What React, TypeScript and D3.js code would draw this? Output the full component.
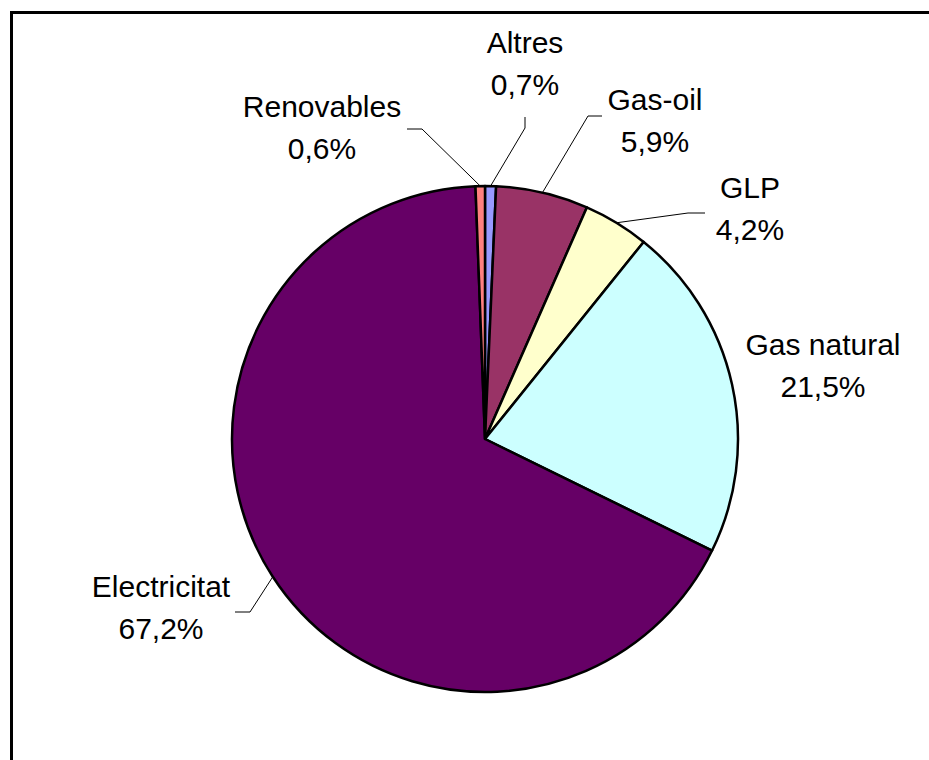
import React, { useEffect, useRef } from 'react';
import * as d3 from 'd3';

// Consum d'energia per font (%), en ordre horari des de les 12
const CATEGORIES = ['Altres', 'Gas-oil', 'GLP', 'Gas natural', 'Electricitat', 'Renovables'];
const VALUES = [0.7, 5.9, 4.2, 21.5, 67.2, 0.6];
const VALUE_LABELS = ['0,7%', '5,9%', '4,2%', '21,5%', '67,2%', '0,6%'];
const COLORS = ['#9999FF', '#993366', '#FFFFCC', '#CCFFFF', '#660066', '#FF8080'];

// Label placement relative to pie centre (text centre / first baseline, leader elbow, leader end)
const LABEL_LAYOUT: Record<string, { tx: number; ty: number; elbow?: [number, number]; end?: [number, number] }> = {
  'Altres':       { tx: 40,   ty: -386, elbow: [40, -311],  end: [40, -322] },
  'Gas-oil':      { tx: 170,  ty: -329, elbow: [103, -323], end: [117, -323] },
  'GLP':          { tx: 265,  ty: -241, elbow: [203, -226], end: [220, -226] },
  'Gas natural':  { tx: 338,  ty: -84 },
  'Electricitat': { tx: -324, ty: 158,  elbow: [-235, 173], end: [-250, 173] },
  'Renovables':   { tx: -163, ty: -322, elbow: [-63, -310],  end: [-78, -310] },
};

const W = 929;
const H = 760;
const CX = 485;
const CY = 439;
const R = 253;
const LINE_GAP = 42;

export default function App() {
  const svgRef = useRef<SVGSVGElement>(null);

  useEffect(() => {
    const svg = d3.select(svgRef.current);
    svg.selectAll('*').remove();

    svg.append('rect')
      .attr('width', W).attr('height', H)
      .attr('fill', '#fff');

    // outer frame (runs off the right and bottom)
    svg.append('path')
      .attr('d', `M11.5,${H + 10} V12.5 H${W + 10}`)
      .attr('fill', 'none')
      .attr('stroke', '#000')
      .attr('stroke-width', 3);

    const data = CATEGORIES.map((name, i) => ({ name, value: VALUES[i], label: VALUE_LABELS[i], color: COLORS[i] }));

    const pie = d3.pie<typeof data[number]>()
      .sort(null)
      .value(d => d.value)
      .startAngle(0)
      .endAngle(2 * Math.PI);

    const arcs = pie(data);
    const arc = d3.arc<d3.PieArcDatum<typeof data[number]>>().innerRadius(0).outerRadius(R);
    const edge = d3.arc<d3.PieArcDatum<typeof data[number]>>().innerRadius(R).outerRadius(R);

    const g = svg.append('g').attr('transform', `translate(${CX},${CY})`);

    // leader lines
    arcs.forEach(a => {
      const lay = LABEL_LAYOUT[a.data.name];
      if (!lay.elbow || !lay.end) return;
      const p = edge.centroid(a);
      g.append('polyline')
        .attr('points', [p, lay.elbow, lay.end].map(q => q.join(',')).join(' '))
        .attr('fill', 'none')
        .attr('stroke', '#000')
        .attr('stroke-width', 1);
    });

    // slices
    g.selectAll('path.slice')
      .data(arcs)
      .enter()
      .append('path')
      .attr('class', 'slice')
      .attr('d', arc)
      .attr('fill', d => d.data.color)
      .attr('stroke', '#000')
      .attr('stroke-width', 2.5)
      .attr('stroke-linejoin', 'round');

    // labels
    arcs.forEach(a => {
      const lay = LABEL_LAYOUT[a.data.name];
      const t = g.append('text')
        .attr('text-anchor', 'middle')
        .attr('font-family', '"Liberation Sans", Arial, sans-serif')
        .attr('font-size', 30)
        .attr('fill', '#000');
      t.append('tspan').attr('x', lay.tx).attr('y', lay.ty).text(a.data.name);
      t.append('tspan').attr('x', lay.tx).attr('y', lay.ty + LINE_GAP).text(a.data.label);
    });
  }, []);

  return (
    <svg
      ref={svgRef}
      width={W}
      height={H}
      style={{ display: 'block', position: 'absolute', left: 0, top: 0, overflow: 'hidden' }}
    />
  );
}
